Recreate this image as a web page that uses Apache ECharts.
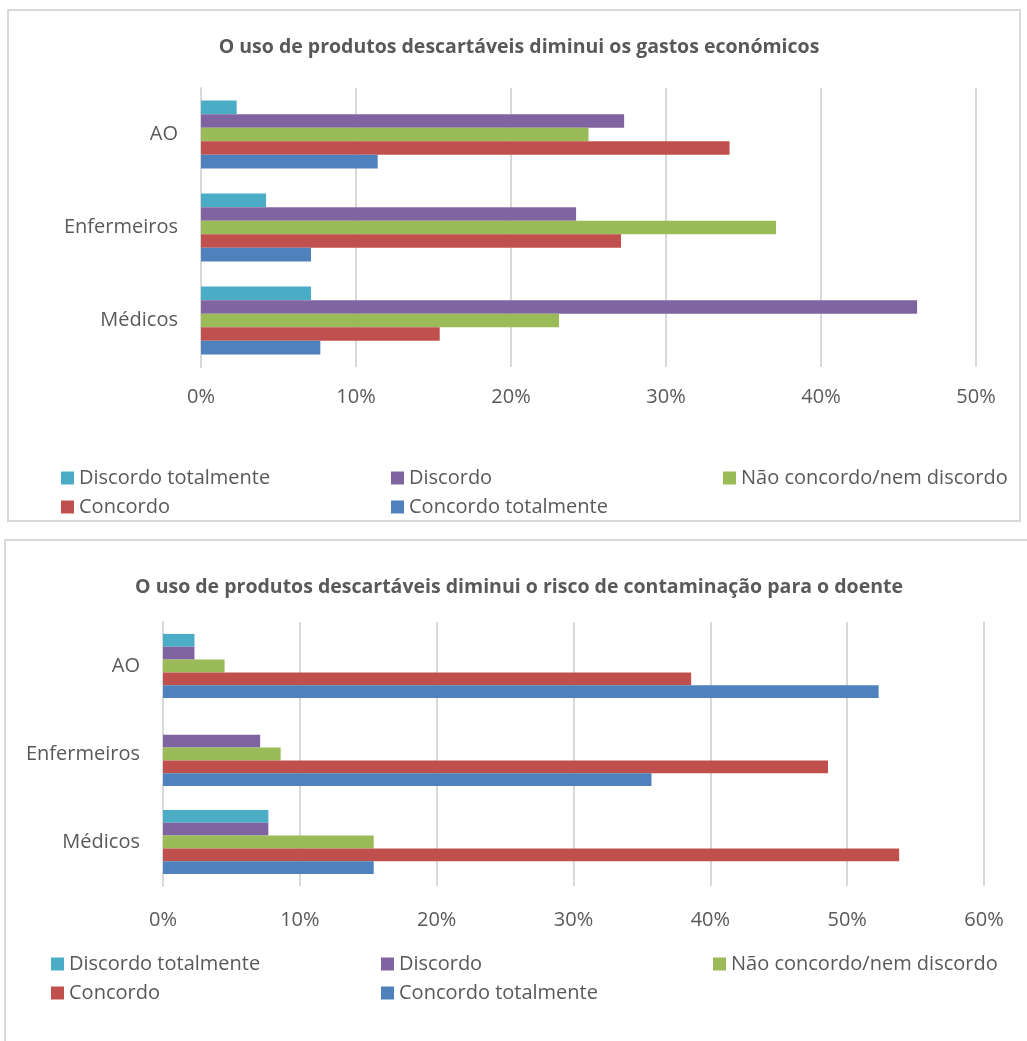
<!DOCTYPE html>
<html>
<head>
<meta charset="utf-8">
<script src="https://cdn.jsdelivr.net/npm/echarts@6/dist/echarts.min.js"></script>
<style>
html,body{margin:0;padding:0;background:#fff;}
#chart{width:1027px;height:1041px;}
</style>
</head>
<body>
<div id="chart"></div>
<script>
// Categories (bottom to top, as drawn on the y axis)
const categories = ['Médicos', 'Enfermeiros', 'AO'];
const seriesNames = ['Discordo totalmente', 'Discordo', 'Não concordo/nem discordo', 'Concordo', 'Concordo totalmente'];
const colors = ['#4BACC6', '#8064A2', '#9BBB59', '#C0504D', '#4F81BD'];

// Chart 1: O uso de produtos descartáveis diminui os gastos económicos (%)
const title1 = 'O uso de produtos descartáveis diminui os gastos económicos';
const discordoTotalmente1 = [7.1, 4.2, 2.3];
const discordo1 = [46.2, 24.2, 27.3];
const naoConcordo1 = [23.1, 37.1, 25.0];
const concordo1 = [15.4, 27.1, 34.1];
const concordoTotalmente1 = [7.7, 7.1, 11.4];
const ticks1 = [0, 10, 20, 30, 40, 50];

// Chart 2: O uso de produtos descartáveis diminui o risco de contaminação para o doente (%)
const title2 = 'O uso de produtos descartáveis diminui o risco de contaminação para o doente';
const discordoTotalmente2 = [7.7, 0, 2.3];
const discordo2 = [7.7, 7.1, 2.3];
const naoConcordo2 = [15.4, 8.6, 4.5];
const concordo2 = [53.8, 48.6, 38.6];
const concordoTotalmente2 = [15.4, 35.7, 52.3];
const ticks2 = [0, 10, 20, 30, 40, 50, 60];

const FONT = '"Open Sans", "Noto Sans", sans-serif';
const TXT = '#595959';
const GRID = '#d9d9d9';

const data1 = [discordoTotalmente1, discordo1, naoConcordo1, concordo1, concordoTotalmente1];
const data2 = [discordoTotalmente2, discordo2, naoConcordo2, concordo2, concordoTotalmente2];

function makeSeries(dataArr, idx) {
  return dataArr.map((d, i) => ({
    name: seriesNames[i],
    type: 'bar',
    xAxisIndex: idx,
    yAxisIndex: idx,
    data: d,
    barGap: '0%',
    barCategoryGap: '27%',
    itemStyle: { color: colors[i] },
    emphasis: { disabled: true }
  }));
}

function xAxisDef(idx, ticks, margin) {
  return {
    type: 'value',
    gridIndex: idx,
    min: ticks[0],
    max: ticks[ticks.length - 1],
    interval: ticks[1] - ticks[0],
    axisLine: { show: false },
    axisTick: { show: false },
    splitLine: { show: true, lineStyle: { color: GRID, width: 2 } },
    axisLabel: { formatter: '{value}%', color: TXT, fontFamily: FONT, fontSize: 20, margin: margin }
  };
}
function yAxisDef(idx) {
  return {
    type: 'category',
    gridIndex: idx,
    data: categories,
    axisLine: { show: true, lineStyle: { color: GRID, width: 2 } },
    axisTick: { show: false },
    axisLabel: { color: TXT, fontFamily: FONT, fontSize: 20, margin: 23 }
  };
}

// legend: one component per item to place them in columns
const legendCols = [[56, 0], [386, 0], [718, 0], [56, 1], [386, 1]];
function makeLegends(leftShift, row1Top) {
  return seriesNames.map((n, i) => ({
    data: [n],
    left: legendCols[i][0] - leftShift,
    top: row1Top + legendCols[i][1] * 29,
    icon: 'rect',
    itemWidth: 13,
    itemHeight: 13,
    selectedMode: false,
    textStyle: { color: TXT, fontFamily: FONT, fontSize: 20, lineHeight: 22 }
  }));
}

const chart = echarts.init(document.getElementById('chart'), null, { renderer: 'canvas' });
chart.setOption({
  animation: false,
  backgroundColor: '#fff',
  graphic: [
    { type: 'rect', shape: { x: 8, y: 10, width: 1012, height: 511 }, style: { fill: 'none', stroke: GRID, lineWidth: 2 }, z: -1 },
    { type: 'rect', shape: { x: 5, y: 540, width: 1040, height: 520 }, style: { fill: 'none', stroke: GRID, lineWidth: 2 }, z: -1 }
  ],
  title: [
    { text: title1, left: 514, top: 32, textAlign: 'center',
      textStyle: { color: TXT, fontFamily: FONT, fontSize: 19.5, fontWeight: 'bold' } },
    { text: title2, left: 514, top: 572, textAlign: 'center',
      textStyle: { color: TXT, fontFamily: FONT, fontSize: 19.5, fontWeight: 'bold' } }
  ],
  legend: makeLegends(0, 462).concat(makeLegends(10, 948)),
  grid: [
    { left: 201, top: 88, width: 775, height: 279, containLabel: false },
    { left: 163, top: 622, width: 821, height: 264, containLabel: false }
  ],
  xAxis: [xAxisDef(0, ticks1, 20), xAxisDef(1, ticks2, 24)],
  yAxis: [yAxisDef(0), yAxisDef(1)],
  series: makeSeries(data1, 0).concat(makeSeries(data2, 1))
});
</script>
</body>
</html>
